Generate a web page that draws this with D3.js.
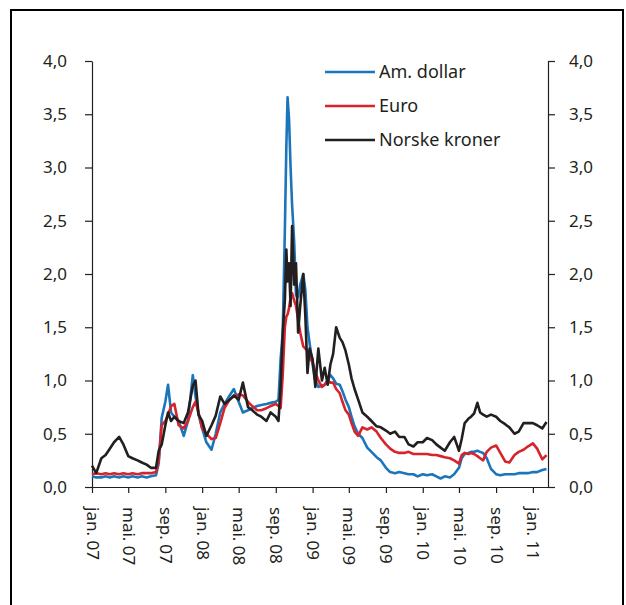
<!DOCTYPE html>
<html>
<head>
<meta charset="utf-8">
<script src="https://cdn.jsdelivr.net/npm/d3@7"></script>
<style>
  body { margin: 0; background: #fff; }
  text { font-family: "Noto Sans", sans-serif; fill: #231f20; }
</style>
</head>
<body>
<div id="my_dataviz"></div>
<script>
  //observation dates, shared by all three series
  const dates = [
    "2007-01-01","2007-01-15","2007-02-01","2007-02-15","2007-03-01","2007-03-15","2007-04-01","2007-04-15",
    "2007-05-01","2007-05-15","2007-06-01","2007-06-15","2007-07-01","2007-07-15","2007-08-01","2007-08-10",
    "2007-08-20","2007-09-01","2007-09-10","2007-09-20","2007-10-01","2007-10-15","2007-11-01","2007-11-15",
    "2007-12-01","2007-12-10","2007-12-20",
    "2008-01-01","2008-01-15","2008-02-01","2008-02-15","2008-03-01","2008-03-15","2008-04-01","2008-04-15",
    "2008-05-01","2008-05-15","2008-06-01","2008-06-15","2008-07-01","2008-07-15","2008-08-01","2008-08-15",
    "2008-09-01","2008-09-10","2008-09-17","2008-09-24","2008-10-01","2008-10-06","2008-10-10","2008-10-15",
    "2008-10-20","2008-10-25","2008-11-01","2008-11-07","2008-11-14","2008-11-21","2008-12-01","2008-12-08",
    "2008-12-15","2008-12-22",
    "2009-01-01","2009-01-10","2009-01-20","2009-02-01","2009-02-10","2009-02-20","2009-03-01","2009-03-10",
    "2009-03-20","2009-04-01","2009-04-10","2009-04-20","2009-05-01","2009-05-10","2009-05-20","2009-06-01",
    "2009-06-15","2009-07-01","2009-07-15","2009-08-01","2009-08-15","2009-09-01","2009-09-15","2009-10-01",
    "2009-10-15","2009-11-01","2009-11-15","2009-12-01","2009-12-15",
    "2010-01-01","2010-01-15","2010-02-01","2010-02-15","2010-03-01","2010-03-15","2010-04-01","2010-04-15",
    "2010-05-01","2010-05-10","2010-05-20","2010-06-01","2010-06-10","2010-06-20","2010-07-01","2010-07-10",
    "2010-07-20","2010-08-01","2010-08-15","2010-09-01","2010-09-15","2010-10-01","2010-10-15","2010-11-01",
    "2010-11-15","2010-12-01","2010-12-15",
    "2011-01-01","2011-01-15","2011-02-01","2011-02-15"
  ];

  //Am. dollar
  const usd = [
    0.10,0.09,0.09,0.10,0.09,0.10,0.09,0.10,0.09,0.10,0.09,0.10,0.09,0.10,0.11,0.22,
    0.65,0.80,0.96,0.70,0.66,0.62,0.48,0.62,1.05,0.85,0.68,
    0.55,0.42,0.35,0.50,0.70,0.78,0.86,0.92,0.80,0.70,0.72,0.74,0.76,0.77,0.78,0.79,
    0.80,0.82,1.20,1.45,2.40,3.20,3.66,3.45,3.00,2.65,2.30,1.80,1.78,1.90,2.00,1.85,
    1.50,1.35,
    1.15,1.00,0.94,0.95,0.96,1.00,1.05,1.02,0.97,0.96,0.90,0.82,0.75,0.66,0.57,0.50,
    0.46,0.37,0.33,0.28,0.25,0.18,0.14,0.13,0.14,0.13,0.12,0.12,0.10,
    0.12,0.11,0.12,0.10,0.08,0.10,0.09,0.12,0.18,0.27,0.31,0.32,0.33,0.33,0.34,0.33,
    0.32,0.27,0.17,0.12,0.11,0.12,0.12,0.12,0.13,0.13,0.13,
    0.14,0.14,0.16,0.17
  ];

  //Euro
  const eur = [
    0.12,0.13,0.12,0.13,0.12,0.13,0.12,0.13,0.12,0.13,0.12,0.13,0.13,0.13,0.14,0.25,
    0.58,0.62,0.68,0.76,0.78,0.58,0.55,0.62,0.75,0.80,0.70,
    0.55,0.50,0.45,0.46,0.60,0.74,0.82,0.85,0.87,0.86,0.80,0.76,0.72,0.72,0.74,0.76,
    0.78,0.76,0.74,1.05,1.50,1.60,1.62,1.68,1.78,1.82,1.75,1.70,1.57,1.45,1.32,1.30,
    1.28,1.22,
    1.17,1.08,1.00,0.94,0.96,1.00,0.98,0.98,0.92,0.88,0.80,0.72,0.68,0.60,0.52,0.48,
    0.56,0.54,0.56,0.52,0.46,0.40,0.36,0.33,0.32,0.32,0.33,0.31,0.31,
    0.31,0.31,0.30,0.30,0.29,0.28,0.27,0.25,0.22,0.30,0.32,0.31,0.32,0.31,0.29,0.27,
    0.25,0.33,0.37,0.39,0.32,0.24,0.23,0.30,0.33,0.35,0.38,
    0.41,0.36,0.26,0.30
  ];

  //Norske kroner
  const nok = [
    0.20,0.13,0.27,0.30,0.36,0.42,0.47,0.40,0.29,0.27,0.25,0.23,0.21,0.18,0.18,0.34,
    0.40,0.58,0.70,0.62,0.66,0.62,0.60,0.70,0.95,1.00,0.68,
    0.62,0.48,0.58,0.67,0.85,0.78,0.82,0.86,0.82,0.98,0.75,0.72,0.68,0.66,0.62,0.70,
    0.66,0.62,0.95,1.45,1.75,2.23,1.93,2.10,1.70,2.45,1.90,2.10,1.45,1.70,2.00,1.60,
    1.07,1.30,
    1.20,0.94,1.30,1.00,1.12,0.96,1.15,1.25,1.50,1.40,1.36,1.28,1.15,1.02,0.92,0.82,
    0.70,0.66,0.62,0.57,0.56,0.53,0.50,0.52,0.47,0.47,0.40,0.38,0.42,
    0.42,0.46,0.44,0.40,0.37,0.34,0.42,0.47,0.34,0.45,0.60,0.64,0.66,0.69,0.79,0.70,
    0.68,0.66,0.68,0.66,0.62,0.59,0.56,0.50,0.52,0.60,0.60,
    0.60,0.58,0.55,0.61
  ];

  //series names and colours
  const seriesNames = ["Am. dollar", "Euro", "Norske kroner"];
  const seriesColors = ["#1b75bb", "#d7232c", "#231f20"];

  //axis ticks
  const xTickDates = ["2007-01-01","2007-05-01","2007-09-01","2008-01-01","2008-05-01","2008-09-01",
    "2009-01-01","2009-05-01","2009-09-01","2010-01-01","2010-05-01","2010-09-01","2011-01-01"];
  const xTickLabels = ["jan. 07","mai. 07","sep. 07","jan. 08","mai. 08","sep. 08",
    "jan. 09","mai. 09","sep. 09","jan. 10","mai. 10","sep. 10","jan. 11"];
  const yTicks = [0, 0.5, 1, 1.5, 2, 2.5, 3, 3.5, 4];
  const yTickLabels = ["0,0","0,5","1,0","1,5","2,0","2,5","3,0","3,5","4,0"];

  const parseDate = d3.timeParse("%Y-%m-%d");

  //plot area
  const plot = { left: 92, right: 548, top: 61, bottom: 487 };

  const svg = d3.select("#my_dataviz")
    .append("svg")
    .attr("width", 626)
    .attr("height", 605);

  //outer frame
  svg.append("rect")
    .attr("x", 11)
    .attr("y", 10)
    .attr("width", 612)
    .attr("height", 620)
    .attr("fill", "none")
    .attr("stroke", "#000")
    .attr("stroke-width", 2);

  //scales
  const x = d3.scaleTime()
    .domain([parseDate("2007-01-01"), parseDate("2011-02-20")])
    .range([plot.left, plot.right]);

  const y = d3.scaleLinear()
    .domain([0, 4])
    .range([plot.bottom, plot.top]);

  //left y axis
  const yAxisLeft = svg.append("g")
    .attr("transform", `translate(${plot.left},0)`)
    .call(d3.axisLeft(y)
      .tickValues(yTicks)
      .tickFormat((d, i) => yTickLabels[i])
      .tickSize(7)
      .tickSizeOuter(0)
      .tickPadding(18));

  //right y axis
  const yAxisRight = svg.append("g")
    .attr("transform", `translate(${plot.right},0)`)
    .call(d3.axisRight(y)
      .tickValues(yTicks)
      .tickFormat((d, i) => yTickLabels[i])
      .tickSize(7)
      .tickSizeOuter(0)
      .tickPadding(14));

  //x axis with rotated month labels
  const xAxis = svg.append("g")
    .attr("transform", `translate(0,${plot.bottom})`)
    .call(d3.axisBottom(x)
      .tickValues(xTickDates.map(parseDate))
      .tickFormat((d, i) => xTickLabels[i])
      .tickSize(6)
      .tickSizeOuter(0));

  xAxis.selectAll("text")
    .attr("transform", "rotate(90)")
    .attr("x", 20)
    .attr("y", 0)
    .attr("dy", "0.35em")
    .style("text-anchor", "start");

  //common axis styling
  svg.selectAll(".domain, .tick line")
    .attr("stroke", "#231f20")
    .attr("stroke-width", 1.2);
  svg.selectAll(".tick text")
    .attr("font-size", 17)
    .attr("font-family", "Noto Sans, sans-serif")
    .attr("fill", "#231f20");

  //draw the lines, black on top
  const line = d3.line()
    .x(d => x(d.date))
    .y(d => y(d.value));

  [usd, eur, nok].forEach(function(values, k) {
    const points = values.map((v, i) => ({ date: parseDate(dates[i]), value: v }));
    svg.append("path")
      .datum(points)
      .attr("fill", "none")
      .attr("stroke", seriesColors[k])
      .attr("stroke-width", 2.6)
      .attr("stroke-linejoin", "round")
      .attr("d", line);
  });

  //legend
  const legend = svg.append("g");
  seriesNames.forEach(function(name, i) {
    const ly = 72 + i * 34;
    legend.append("line")
      .attr("x1", 325)
      .attr("x2", 375)
      .attr("y1", ly)
      .attr("y2", ly)
      .attr("stroke", seriesColors[i])
      .attr("stroke-width", 2.6);
    legend.append("text")
      .attr("x", 379)
      .attr("y", ly)
      .attr("dy", "0.35em")
      .attr("font-size", 18)
      .text(name);
  });
</script>
</body>
</html>
